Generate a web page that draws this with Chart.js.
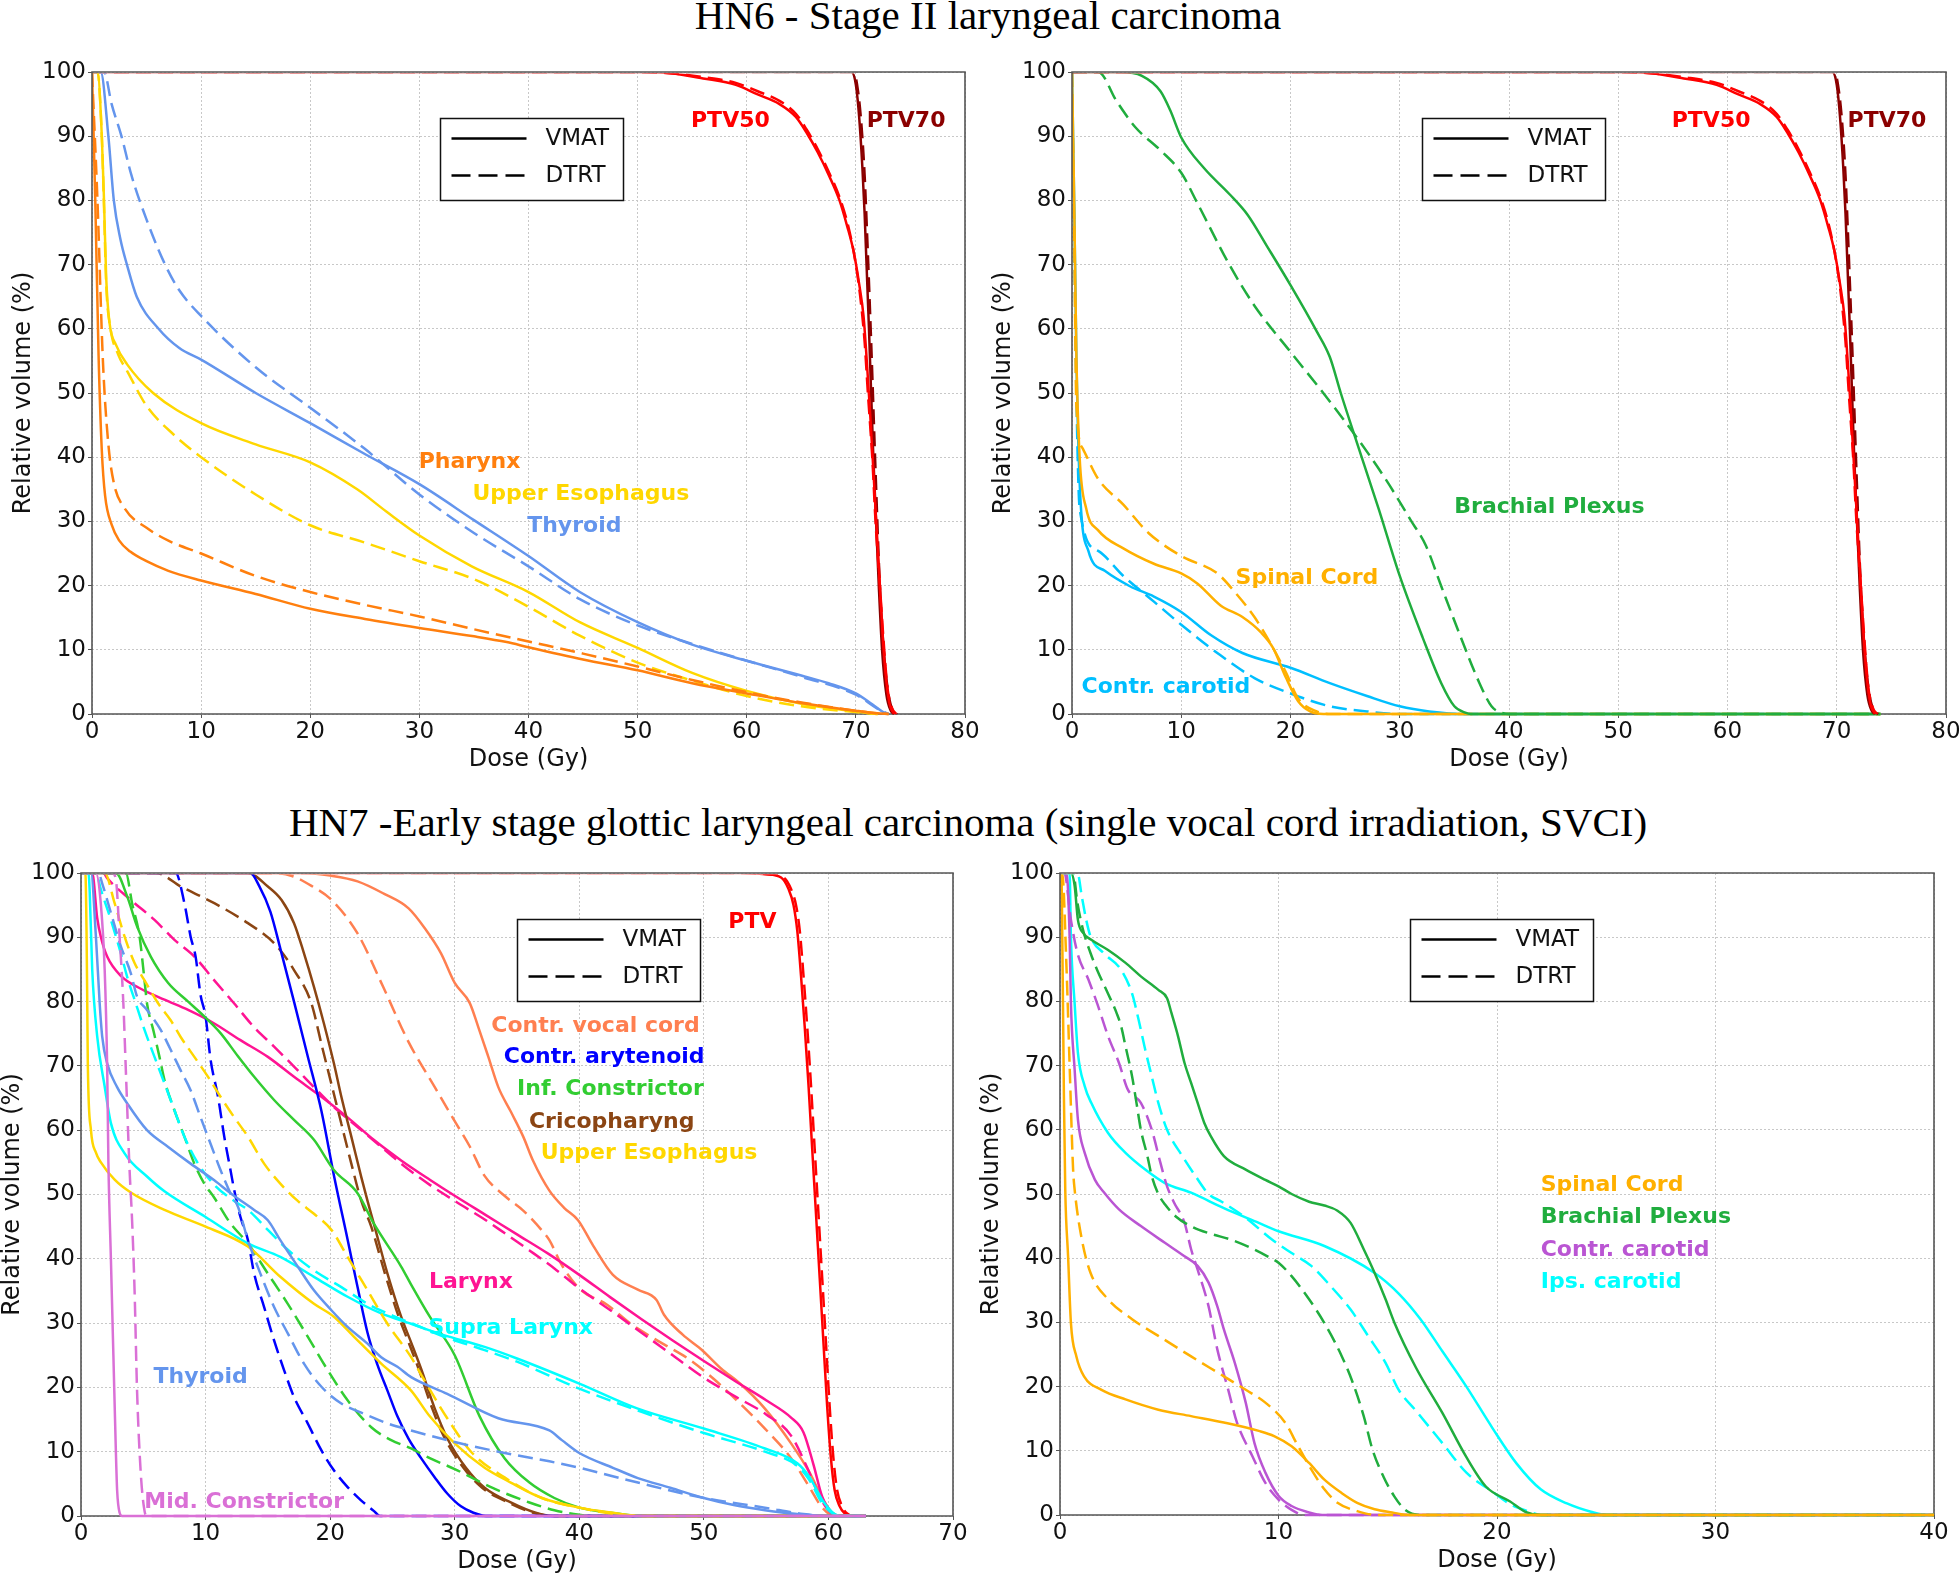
<!DOCTYPE html>
<html>
<head>
<meta charset="utf-8">
<script src="https://cdn.jsdelivr.net/npm/chart.js@4.4.1/dist/chart.umd.min.js"></script>
<style>
html,body{margin:0;padding:0;background:#fff;overflow:hidden;width:1959px;height:1576px;position:relative}
.title{position:absolute;font-family:'Liberation Serif','Times New Roman',serif;font-size:41px;line-height:41px;white-space:nowrap;color:#000;transform:translateX(-50%)}
canvas{position:absolute}
</style>
</head>
<body>
<div class="title" style="left:988px;top:-5px">HN6 - Stage II laryngeal carcinoma</div>
<div class="title" style="left:968px;top:802px">HN7 -Early stage glottic laryngeal carcinoma (single vocal cord irradiation, SVCI)</div>
<canvas id="c1" width="990" height="730" style="left:5px;top:48px"></canvas>
<canvas id="c2" width="991" height="730" style="left:985px;top:48px"></canvas>
<canvas id="c3" width="989" height="731" style="left:-6px;top:849px"></canvas>
<canvas id="c4" width="991" height="730" style="left:973px;top:849px"></canvas>
<script>
// ---------- tick settings ----------
const xMaxHN6 = 80, xMaxHN7a = 70, xMaxHN7b = 40;
const tickStep = 10;

// ---------- HN6 shared PTVs: [dose Gy, volume %] ----------
const hn6_ptv50_vmat = [[0,100],[50,100],[53,99.8],[56,99],[59,98],[61,96.5],[63,95],[64.5,93],[65.5,90.5],[66.5,87.5],[67.5,84],[68.5,80],[69.2,76],[69.8,72],[70.3,67],[70.7,62],[71,55],[71.3,47],[71.6,38],[71.9,29],[72.2,20],[72.5,11],[72.8,5],[73.1,1.5],[73.5,0]];
const hn6_ptv50_dtrt = [[0,100],[50,100],[53,99.8],[56,99.2],[59,98.3],[61,97],[63,95.5],[64.5,93.5],[65.5,91],[66.5,88],[67.5,84.5],[68.5,80.5],[69.3,76],[69.9,71],[70.4,65],[70.8,58],[71.1,50],[71.5,40],[71.8,30],[72.2,20],[72.6,10],[72.9,4],[73.3,1],[73.7,0]];
const hn6_ptv70_vmat = [[0,100],[69.6,100],[70,98],[70.3,93],[70.6,85],[70.8,78],[71.2,60],[71.6,40],[72.1,20],[72.4,10],[72.8,3],[73.2,0.5],[73.5,0]];
const hn6_ptv70_dtrt = [[0,100],[69.8,100],[70.2,97],[70.5,92],[70.8,84],[71,76],[71.4,58],[71.8,38],[72.2,20],[72.6,9],[73,3],[73.4,0.5],[73.8,0]];

// ---------- HN6 left panel ----------
const hn6_pharynx_vmat = [[0,100],[0.3,80],[0.6,56],[0.9,41],[1.2,34],[1.8,29.5],[2.5,27],[3.5,25.3],[5,23.8],[7,22.3],[10,20.8],[15,18.7],[20,16.4],[25,14.8],[30,13.4],[35,12.1],[38,11.2],[40,10.4],[45,8.5],[50,6.8],[55,4.8],[60,3.2],[65,1.7],[70,0.5],[72,0.1],[73,0]];
const hn6_pharynx_dtrt = [[0,100],[0.5,80],[1,55],[1.5,42],[2,36],[3,32],[5,29],[7,27],[10,25],[15,21.5],[20,19],[25,17],[30,15.2],[35,13.2],[40,11.3],[45,9.4],[50,7.4],[55,5.3],[60,3.4],[65,1.8],[70,0.5],[72,0.1],[73,0]];
const hn6_ueso_vmat = [[0,100],[0.5,100],[0.9,90],[1.1,80],[1.3,68],[1.6,61],[2.2,57.5],[3.2,54.5],[5.6,50],[10,45.3],[15,42],[20,39.2],[24.3,35],[27,31.5],[30,27.8],[34.8,23],[40,19],[44.7,14.3],[50,10.3],[55,6.4],[60,3.6],[65,1.6],[70,0.4],[72,0]];
const hn6_ueso_dtrt = [[0,100],[0.5,100],[0.9,90],[1.1,79],[1.3,67],[1.7,60],[2.4,56],[3.2,53.5],[5,48],[7.5,43.5],[10,40],[15,34.2],[20,29.4],[25,26.7],[30,23.8],[35,21],[40,16.7],[44.7,12.2],[50,8],[55,5.2],[60,2.8],[65,1.2],[70,0.3],[72,0]];
const hn6_thyroid_vmat = [[0,100],[0.8,100],[1.5,90],[2,80],[2.6,74],[3.2,70],[4.1,65],[6.1,60],[8,57],[10,55.2],[15,50],[20,45.3],[25,40.5],[30,35.8],[35,30.2],[40,24.6],[44.7,19],[50,14.3],[55,10.8],[60,8.3],[65,6],[67.5,4.8],[70,3.2],[71.5,1.5],[72.5,0.3],[73,0]];
const hn6_thyroid_dtrt = [[0,100],[1.1,100],[1.8,95],[2.7,90],[3.6,84],[5,77],[6.7,70],[8,66],[10,62],[15,54],[20,47.7],[25,41.3],[30,34.2],[35,28.2],[40,23],[44.7,17.9],[50,13.8],[55,10.9],[60,8.3],[65,5.8],[70,3],[72,0.8],[73,0]];

// ---------- HN6 right panel ----------
const hn6_brachial_vmat = [[0,100],[4.5,100],[6.4,99.4],[8.1,97],[9,94],[10,89.8],[12.1,85],[14.4,81],[16.1,77.7],[17.8,73],[20,66.8],[22.4,59.6],[23.6,55.6],[24.6,50],[25.8,43.7],[28.1,31.8],[30,21.5],[32.1,11.9],[33.8,4.8],[35,1.2],[36,0.2],[36.5,0],[74,0]];
const hn6_brachial_dtrt = [[0,100],[2.4,100],[4.1,95.4],[5.8,91.4],[8.1,87.8],[10,84.3],[11.5,79.5],[14.4,70],[16.7,63.6],[20,56.4],[23,50],[25.8,43.7],[28.7,36.6],[31,30.2],[32.4,26.2],[33.8,19.9],[35.6,11.9],[37.3,4.8],[38.4,1.2],[39.3,0.2],[40,0],[74,0]];
const hn6_spinal_vmat = [[0,100],[0.2,80],[0.4,56],[0.7,40],[1.3,32],[2.4,28.6],[4.7,25.8],[7.5,23.4],[10,21.9],[11.5,20.3],[13.6,16.9],[15.6,15.1],[17.3,12.7],[18.4,10.3],[19.6,5.6],[20.7,2],[21.8,0.4],[23,0],[74,0]];
const hn6_spinal_dtrt = [[0,100],[0.2,75],[0.4,48],[1,41.3],[2.4,36.6],[4.7,32.6],[7,28.2],[10,24.6],[13.3,21.9],[14.9,19],[16.7,15.1],[18.4,10.3],[19.6,6.4],[20.7,2.4],[22.4,0.4],[23.5,0],[74,0]];
const hn6_ccarotid_vmat = [[0,100],[0.2,80],[0.4,56],[0.7,36],[1.5,25.4],[3,22.3],[5.3,19.9],[7.5,18.3],[10,15.9],[12.7,12.3],[15.6,9.5],[20,7.2],[23.6,4.8],[27,2.8],[30,1.2],[32.7,0.4],[36,0],[74,0]];
const hn6_ccarotid_dtrt = [[0,100],[0.2,75],[0.4,50],[0.7,32],[2.4,25.4],[4.7,21.5],[7.5,17.5],[10,13.9],[13.3,9.5],[16.7,5.6],[20,3.2],[23.6,1.2],[27,0.4],[30,0],[74,0]];

// ---------- HN7 left panel ----------
const hn7_ptv_vmat = [[0,100],[53,100],[55,99.8],[56.2,99.3],[56.8,97.5],[57.2,95],[57.5,91],[57.8,84],[58.1,76],[58.4,67],[58.7,57],[59,47],[59.3,37],[59.6,27],[59.9,17],[60.2,9],[60.5,4],[60.9,1.5],[61.3,0.4],[61.8,0],[63,0]];
const hn7_ptv_dtrt = [[0,100],[53.2,100],[55.2,99.8],[56.4,99.3],[57,97.5],[57.4,95],[57.7,91],[58,84],[58.3,76],[58.6,67],[58.9,57],[59.2,47],[59.5,37],[59.8,27],[60.1,17],[60.4,9],[60.7,4],[61.1,1.5],[61.5,0.4],[62,0],[63,0]];
const hn7_cvc_vmat = [[0,100],[18,100],[20,99.6],[22.2,98.7],[24.3,96.8],[26.3,94.5],[27.6,91.4],[28.9,87.5],[30,82.9],[31.2,79.8],[31.9,76],[32.7,71.4],[33.5,66.7],[34.5,62.9],[35.5,59],[36.3,55.2],[37.6,50.6],[38.8,47.9],[39.9,46],[41.1,42.1],[42.7,37.5],[44.7,35.2],[46.2,33.6],[46.8,31.3],[48.3,28.2],[49.8,25.9],[51.4,22.9],[52.9,20.6],[54.9,16.7],[57,11.3],[58.5,6.7],[59.5,2.8],[60.3,0.5],[61,0],[63,0]];
const hn7_cvc_dtrt = [[0,100],[15.5,100],[17,99.5],[18.5,98],[20,96],[22.2,90.6],[24.3,82.1],[26.3,73.7],[28.4,66.7],[30,61.4],[31.2,57.5],[32.4,52.9],[34,49.8],[35.5,47.5],[37,44.4],[37.6,42.9],[38.6,39],[40.1,35.2],[42.2,32.9],[44.2,29.8],[46.8,26.7],[48.8,24.4],[50.8,21.3],[52.9,17.5],[54.9,13.6],[57,9],[58.5,4.4],[59.5,1.3],[60.5,0],[63,0]];
const hn7_cary_vmat = [[0,100],[13.6,100],[14.3,98],[15.2,94],[16.1,87.5],[17.1,80],[18.2,71.5],[19.3,63],[20.3,53],[21.4,43],[22.2,35.6],[23,28.5],[23.8,23.5],[24.6,19.5],[25.4,15.5],[26.3,12],[27.3,9],[28.4,6],[29.4,3.5],[30.5,1.5],[31.5,0.5],[32.5,0],[63,0]];
const hn7_cary_dtrt = [[0,100],[7.6,100],[8.3,95.3],[8.8,90.1],[9.2,87],[9.6,81],[10,77.7],[10.4,71],[11,65.2],[11.5,59],[12,53.8],[12.3,50.7],[12.8,46.5],[13.4,42.9],[13.9,37.7],[14.7,32.5],[15.5,27.3],[16.3,22.7],[17.1,18.5],[18.2,14.4],[19.3,10.2],[20.3,7.1],[21.4,4.5],[22.5,2.4],[23.5,0.8],[24,0],[63,0]];
const hn7_infc_vmat = [[0,100],[2.8,100],[3.7,96.4],[4.5,91.7],[5.6,87],[7,82.9],[8.6,80],[10,77.5],[11.2,75.1],[12.6,71.5],[13.9,68.3],[15.5,64.7],[17.1,61.6],[18.7,58.5],[20.3,53.8],[22.2,50.2],[23.5,45.5],[25.7,38.8],[26.5,36],[28,31],[30,25],[32,15.5],[34,9],[36,5.2],[38,2.8],[40,1.3],[43,0.4],[45,0],[63,0]];
const hn7_infc_dtrt = [[0,100],[3.6,100],[4.1,95.3],[4.7,90.1],[5.1,83.3],[5.3,79.7],[5.8,75.6],[6.3,71.4],[6.7,67.8],[7.5,63.1],[8.3,59],[9.1,54.8],[9.9,51.7],[10.7,49.5],[12,45.5],[13.4,42.4],[15,37.7],[16.6,33],[18.2,27.9],[19.8,22.7],[21.4,18],[23.3,13.8],[24.9,11.8],[26.5,10.5],[28,9],[30,7.3],[33,4.4],[36,2.1],[38,0.9],[40,0.2],[41,0],[63,0]];
const hn7_crico_vmat = [[0,100],[13.4,100],[15,97.9],[16.1,95.8],[17.1,92.2],[17.9,87.5],[18.7,82.3],[19.5,76.6],[20.3,70.4],[20.9,65.2],[21.7,59],[22.5,52.7],[23,49],[23.5,45.5],[24.6,37.7],[25.7,31],[26.5,27],[27.3,22.9],[28.4,16.7],[29.4,12.1],[30.9,7.5],[32.4,4.4],[34.5,2.1],[36.5,0.5],[38,0],[63,0]];
const hn7_crico_dtrt = [[0,100],[6,100],[8,97.9],[10.7,95.3],[13.4,92.2],[15.5,89.1],[17.1,84.9],[18.5,79.7],[19.3,73.4],[20.1,67.2],[20.9,61],[21.7,54.8],[22.5,49],[23.3,45],[24.4,37.7],[25.5,31],[26.3,27],[27.1,22.9],[28.2,16.7],[29.2,12.1],[30.7,7.5],[32.2,4.4],[34.3,2.1],[36.3,0.5],[37.8,0],[63,0]];
const hn7_ueso_vmat = [[0,100],[0.35,100],[0.45,90],[0.5,80],[0.55,70],[0.8,60],[1.2,56.5],[1.6,55],[2.7,52.3],[4,50.3],[6.7,47.6],[10,45],[13.4,41.9],[16,37.2],[18.7,33],[20.3,31],[21.9,27.9],[24.1,23.7],[26.5,19.5],[28,15.5],[30,11.3],[32.4,7.5],[34.5,5.2],[37,2.8],[40,1.3],[42.7,0.5],[45,0],[63,0]];
const hn7_ueso_dtrt = [[0,100],[1.9,100],[2.7,95.3],[3.5,90.1],[4.3,86],[5.1,83.3],[6.2,79.7],[7.2,77.1],[8,74.5],[9.1,71.4],[10.2,68.3],[11.2,65.2],[12.3,62],[13.4,59],[14.7,54.8],[16,51.7],[17.4,49],[18.7,47],[20.1,44.5],[21.4,40.3],[23,35.1],[24.6,29.9],[26.5,24.7],[27.3,22],[29.4,15.2],[31.4,9.8],[34,6],[37,2.8],[40,1.3],[42.5,0.4],[45,0],[63,0]];
const hn7_larynx_vmat = [[0,100],[0.9,100],[1.3,93],[1.6,90],[2.1,87],[3.2,84],[4.8,82],[6.7,80.3],[8.6,78.7],[10.7,76.6],[12.8,74],[15,71.4],[17.1,68.3],[19.3,65.2],[21.4,62],[23.5,58.5],[25.7,55.3],[28,52.3],[30,49.8],[32.5,46.8],[35,43.8],[37.5,40.8],[40,37.5],[42.5,34],[45,30.6],[47.5,27.3],[50,24.1],[52.5,21],[55,18],[57,15.3],[58,13],[58.8,8],[59.5,3],[60.3,0.5],[61,0],[63,0]];
const hn7_larynx_dtrt = [[0,100],[1.8,100],[2.1,99.2],[4,95.8],[5.9,92.7],[7.5,89.6],[9.1,87],[10.7,83.3],[12.3,79.7],[13.9,76],[15.5,73],[17.1,69.9],[18.7,66.7],[20.3,63.6],[22.2,60.5],[24.1,57.4],[25.7,54.8],[28,51.5],[30,49],[32.5,46],[34,44],[36,41.3],[38,38.5],[40,35.4],[42.5,32],[45,28.5],[47.5,25],[50,21.5],[52.5,18.6],[55,15.8],[57,12.5],[58.3,7.5],[59.3,3],[60.2,0.5],[61,0],[63,0]];
const hn7_supra_vmat = [[0,100],[0.6,100],[0.7,97],[0.9,85],[1.3,74.6],[1.9,66.8],[2.4,61.1],[3.5,56.4],[5.3,52.8],[6.7,50.5],[10,46.5],[13.4,42.4],[16,40.3],[18.7,37.2],[21.4,34.1],[24.1,31.5],[26.5,29.9],[29,28.2],[32.4,26.3],[35,24.5],[40,20.6],[44.7,16.7],[50,13.6],[54.9,10.5],[57.5,8.2],[58.5,6],[59.5,2.5],[60.5,0.3],[61,0],[63,0]];
const hn7_supra_dtrt = [[0,100],[1.2,100],[1.6,97.4],[2.4,92.7],[3.2,87.5],[3.7,83.9],[4.4,79.7],[5.1,75.6],[5.9,71.4],[6.7,67.3],[7.5,63.1],[8.3,59],[9.4,54.8],[10.7,51.5],[12.3,49],[13.4,47.6],[15,44.5],[16.6,41.4],[18.7,38.2],[20.9,35.6],[23,33],[25.2,31],[26.5,30],[29,28],[32.4,25.8],[35,24],[40,19.8],[45,16.2],[50,12.9],[54.9,10],[57.5,7.8],[58.5,5.5],[59.5,2],[60.5,0.2],[61,0],[63,0]];
const hn7_thyroid_vmat = [[0,100],[0.8,100],[1.2,90],[1.5,79.7],[1.7,74.6],[2.1,70.4],[2.9,66.7],[3.7,64.2],[5.3,60],[7,57.4],[8.8,54.8],[10.7,52.2],[12,50.2],[13.9,47.6],[15,46],[16,42.9],[17.4,38.8],[18.7,35.1],[20.1,32],[21.4,29.4],[23,26.8],[24.1,24.7],[25.4,23.2],[26.5,21.6],[29.4,19],[33.5,15.2],[37.6,13.3],[38.6,11.8],[40,9.8],[42.7,7.5],[44.7,5.9],[47.3,4.4],[50,2.8],[52.4,1.7],[54.9,0.9],[57.5,0.3],[60,0],[63,0]];
const hn7_thyroid_dtrt = [[0,100],[1.4,100],[1.7,98.4],[2.4,93.8],[3.2,88.6],[4,84.4],[4.5,80.8],[5.3,78.7],[6.4,75.6],[7.2,72.5],[8,69.3],[8.8,66.2],[9.6,62],[10.4,57.9],[11.2,53.8],[12,50.2],[12.6,48.1],[13.4,42.9],[14.4,37.7],[15.5,32.5],[16.6,28.4],[17.9,23.7],[19.3,20.1],[20.9,17.5],[22.7,15.9],[24.6,14.4],[26.5,13.3],[30,11.5],[33.5,10],[37.6,8.5],[40,7.5],[44.7,5.2],[50,2.8],[54.9,1.3],[58,0.3],[60,0],[63,0]];
const hn7_midc_vmat = [[0,100],[1.2,100],[1.6,95],[1.9,85],[2.1,70],[2.2,55],[2.4,40],[2.6,25],[2.8,10],[2.9,4],[3.1,0.5],[3.3,0],[63,0]];
const hn7_midc_dtrt = [[0,100],[2.5,100],[2.8,99],[3.1,90],[3.4,79.7],[3.6,69.3],[3.9,53.8],[4.1,46],[4.3,35.1],[4.5,19.5],[4.8,6.6],[5.1,0.8],[5.3,0],[63,0]];

// ---------- HN7 right panel ----------
const hn7b_spinal_vmat = [[0,100],[0.06,100],[0.12,85],[0.18,65],[0.24,50.7],[0.37,40.3],[0.5,29.9],[0.75,24.7],[1.1,21.6],[1.9,19.5],[3,18],[4.5,16.4],[6,15.4],[7.5,14.4],[9.1,13.1],[9.8,12.3],[10.6,10.7],[11.4,8.1],[12.1,5.5],[12.9,3.4],[13.6,1.9],[14.4,0.9],[15.2,0.4],[16,0],[40,0]];
const hn7b_spinal_dtrt = [[0,100],[0.1,100],[0.3,85],[0.45,69],[0.6,53.8],[0.67,50.7],[1,42.9],[1.4,37.7],[2.2,33.6],[3.3,30.5],[4.5,27.9],[6,24.7],[7.5,21.6],[8.5,19.5],[9.4,17.5],[10.3,14.4],[10.9,10.7],[11.5,7.1],[12.1,4],[12.7,1.9],[13.6,0.6],[14.5,0],[40,0]];
const hn7b_ccar_vmat = [[0,100],[0.3,100],[0.44,90.1],[0.5,79.7],[0.67,69.4],[0.82,61.6],[1.13,56.4],[1.6,52.2],[2,50.3],[2.7,47.6],[3.7,45],[4.8,42.4],[5.7,40.3],[6.3,38.8],[6.8,36.2],[7.2,32.5],[7.5,28.9],[8,23.7],[8.5,17.5],[8.9,11.2],[9.4,6.6],[10,3],[10.6,1.4],[11.4,0.4],[12,0],[40,0]];
const hn7b_ccar_dtrt = [[0,100],[0.2,100],[0.5,92.7],[0.8,87.5],[1.3,83.4],[1.7,79.7],[2.2,74.6],[2.7,70.4],[3.1,66.3],[3.7,64.2],[4.2,60],[4.6,54.8],[4.9,51.2],[5.2,48.8],[5.7,45.5],[6,41.4],[6.3,38.2],[6.8,32.5],[7.2,25.8],[7.7,19.5],[8.1,14.4],[8.8,9.2],[9.4,5],[10,2.4],[10.6,0.8],[11.2,0],[40,0]];
const hn7b_brach_vmat = [[0,100],[0.5,100],[0.67,98],[0.82,92.7],[1.05,90.7],[1.43,89.6],[2.2,88],[3,86],[3.7,83.9],[4.5,81.8],[4.9,80.5],[5.1,78.2],[5.4,74.6],[5.7,70.4],[6,67.3],[6.3,64.2],[6.6,61.1],[6.9,59],[7.5,55.9],[8.5,53.8],[9.4,52.2],[10,51.2],[10.6,50],[11.4,48.8],[12.1,48.2],[12.7,47.4],[13.3,45.5],[13.9,41.4],[14.4,37.7],[14.9,33.6],[15.3,30],[16.3,22.9],[17.5,15.9],[18.6,9],[19.5,4.4],[20.6,2.1],[21.3,0.5],[22,0],[40,0]];
const hn7b_brach_dtrt = [[0,100],[0.6,100],[0.8,95.3],[1.05,91.2],[1.4,87.5],[1.7,84.9],[2.2,81.2],[2.6,78.1],[2.8,76.1],[3,73],[3.3,68.3],[3.5,64.2],[3.7,60],[4,55.9],[4.2,52.8],[4.5,50],[4.8,48.4],[5.3,46.5],[6.1,44.8],[6.9,43.8],[7.9,42.8],[8.8,41.5],[9.6,40.1],[10,39.3],[10.6,37.2],[11.4,33.6],[12.1,29.9],[12.9,24.7],[13.4,20.6],[13.9,15.4],[14.3,10.2],[14.8,6],[15.3,2.9],[15.8,0.8],[16.5,0],[40,0]];
const hn7b_ips_vmat = [[0,100],[0.44,100],[0.5,90],[0.67,79.7],[0.82,72],[1.13,66.8],[1.43,64.2],[2.2,59.5],[3,56.4],[3.9,53.8],[4.8,51.7],[6,50.2],[7.5,47.8],[9.1,45.5],[10,44.2],[12.1,41.9],[14.4,37.7],[15.5,34.5],[16.5,30.5],[17.5,25.5],[18.6,20],[19.8,13.5],[20.9,8],[22,4],[23.2,1.8],[24.3,0.5],[25,0],[40,0]];
const hn7b_ips_dtrt = [[0,100],[0.8,100],[1,96.3],[1.2,92.7],[1.4,90.1],[2,87.5],[2.8,84.9],[3.3,81.2],[3.6,77.1],[3.9,72.5],[4.2,68.3],[4.5,64.2],[4.9,60],[5.6,55.9],[6.2,52.8],[6.8,50],[7.4,48.8],[8.5,46.3],[9.7,42.9],[10.6,40.8],[11.5,38.8],[12.4,35.6],[13.3,32],[14.1,27.9],[14.9,23.7],[15.5,19.5],[16.3,16.2],[17.5,11.2],[18.6,6.6],[19.8,3.6],[20.6,1.7],[21.5,0.5],[22,0],[40,0]];

// ---------- curve labels ----------
const hn6aLabelText = ['PTV50','PTV70','Pharynx','Upper Esophagus','Thyroid'];
const hn6aLabelDose = [58.5,74.6,34.6,44.8,44.2];
const hn6aLabelVol  = [92.4,92.4,39.2,34.3,29.3];
const hn6bLabelText = ['PTV50','PTV70','Brachial Plexus','Spinal Cord','Contr. carotid'];
const hn6bLabelDose = [58.5,74.6,43.7,21.5,8.6];
const hn6bLabelVol  = [92.4,92.4,32.2,21.2,4.1];
const hn7aLabelText = ['PTV','Contr. vocal cord','Contr. arytenoid','Inf. Constrictor','Cricopharyng','Upper Esophagus','Larynx','Supra Larynx','Thyroid','Mid. Constrictor'];
const hn7aLabelDose = [53.9,41.3,42.0,42.5,42.6,45.6,31.3,34.5,9.6,13.1];
const hn7aLabelVol  = [92.3,76.2,71.4,66.3,61.2,56.4,36.3,29.2,21.5,2.2];
const hn7bLabelText = ['Spinal Cord','Brachial Plexus','Contr. carotid','Ips. carotid'];
const hn7bLabelDose = [22.0,22.0,22.0,22.0];
const hn7bLabelVol  = [51.3,46.3,41.3,36.3];

const legendNames = ['VMAT','DTRT'];

// ---------- colours ----------
const C = {
  pharynx:'#ff7f0e', ueso:'#ffd700', thyroid:'#6495ed', ptv50:'#ff0000', ptv70:'#8b0000',
  brach:'#20ad3e', spinal:'#ffb000', ccarA:'#00bfff',
  cvc:'#ff7f50', cary:'#0000ff', infc:'#32cd32', crico:'#8b4513', larynx:'#ff1493', supra:'#00ffff', midc:'#da70d6', ptv:'#ff0000',
  ccarB:'#ba55d3', ips:'#00ffff'
};

const FONT = "'DejaVu Sans', 'Liberation Sans', sans-serif";
const Y_W = 87, X_H = 64, PT = 24, PR = 30;

function pts(a){ return a.map(p => ({x:p[0], y:p[1]})); }
function ds(arr, color, dashed){
  return { data: pts(arr), borderColor: color, borderWidth: 2.5, borderDash: dashed ? [15,7] : [],
           pointRadius: 0, fill: false, cubicInterpolationMode: 'monotone',
           clip: {left:0, top:-1.4, right:6, bottom:6} };
}
function labels(t, d, v, colors, align){
  return t.map((s,i) => ({text:s, x:d[i], y:v[i], color:colors[i], align:align||'center'}));
}

function frameSides(chart, sides){
  const {ctx, chartArea:a} = chart;
  ctx.save(); ctx.strokeStyle = '#555'; ctx.lineWidth = 1.6; ctx.setLineDash([]);
  ctx.beginPath();
  if (sides.includes('b')) { ctx.moveTo(a.left, a.bottom); ctx.lineTo(a.right, a.bottom); }
  if (sides.includes('r')) { ctx.moveTo(a.right, a.bottom); ctx.lineTo(a.right, a.top); }
  if (sides.includes('t')) { ctx.moveTo(a.left - 0.8, a.top); ctx.lineTo(a.right + 0.8, a.top); }
  if (sides.includes('l')) { ctx.moveTo(a.left, a.top); ctx.lineTo(a.left, a.bottom + 0.8); }
  ctx.stroke(); ctx.restore();
}
const framePlugin = {
  id:'frameBox',
  beforeDatasetsDraw(chart){ frameSides(chart, 'br'); },
  afterDatasetsDraw(chart){ frameSides(chart, 'tl'); }
};
const labelPlugin = {
  id:'curveLabels',
  afterDatasetsDraw(chart, args, opts){
    const {ctx} = chart; const xs = chart.scales.x, ys = chart.scales.y;
    ctx.save(); ctx.font = 'bold 22px ' + FONT; ctx.textBaseline = 'middle';
    (opts.items||[]).forEach(it => {
      ctx.fillStyle = it.color; ctx.textAlign = it.align;
      ctx.fillText(it.text, xs.getPixelForValue(it.x), ys.getPixelForValue(it.y));
    });
    ctx.restore();
  }
};
const legendPlugin = {
  id:'styleLegend',
  afterDatasetsDraw(chart, args, opts){
    if(!opts.at) return;
    const {ctx} = chart; const xs = chart.scales.x, ys = chart.scales.y;
    const l = Math.round(xs.getPixelForValue(opts.at[0])) + 0.5, t = Math.round(ys.getPixelForValue(opts.at[1])) + 0.5;
    const w = 183, h = 82;
    ctx.save();
    ctx.fillStyle = '#fff'; ctx.fillRect(l, t, w, h);
    ctx.strokeStyle = '#111'; ctx.lineWidth = 1.5; ctx.strokeRect(l, t, w, h);
    ctx.lineWidth = 2.6; ctx.strokeStyle = '#000';
    [20, 57].forEach((dy, i) => {
      ctx.setLineDash(i === 0 ? [] : [19,8]);
      ctx.beginPath(); ctx.moveTo(l + 11, t + dy); ctx.lineTo(l + 86, t + dy); ctx.stroke();
    });
    ctx.setLineDash([]);
    ctx.fillStyle = '#111'; ctx.font = '23px ' + FONT; ctx.textBaseline = 'middle'; ctx.textAlign = 'left';
    ctx.fillText(legendNames[0], l + 105, t + 21);
    ctx.fillText(legendNames[1], l + 105, t + 58);
    ctx.restore();
  }
};

function axisCfg(max, title, isX){
  return {
    type:'linear', min:0, max:max,
    ticks:{ stepSize: tickStep, font:{family:FONT, size:23}, color:'#111', padding: isX ? 0 : 2,
            maxRotation:0, autoSkip:false, includeBounds:true },
    grid:{ color:'#c8c8c8', lineWidth:1, drawTicks:true, tickLength:4, tickColor:'#555', tickBorderDash:[] },
    border:{ display:false, dash:[2,2] },
    title:{ display:true, text:title, font:{family:FONT, size:24}, color:'#111', padding:{top:4, bottom:4} },
    afterFit(s){ if(isX) s.height = X_H; else s.width = Y_W; }
  };
}

function makeChart(id, xMax, datasets, items, legendAt){
  return new Chart(document.getElementById(id), {
    type:'line',
    data:{ datasets: datasets },
    options:{
      responsive:false, animation:false, devicePixelRatio:1,
      layout:{ padding:{ left:0, top:PT, right:PR, bottom:0 } },
      plugins:{ legend:{display:false}, tooltip:{enabled:false},
                curveLabels:{ items: items }, styleLegend:{ at: legendAt } },
      scales:{ x: axisCfg(xMax, 'Dose (Gy)', true), y: axisCfg(100, 'Relative volume (%)', false) }
    },
    plugins:[framePlugin, labelPlugin, legendPlugin]
  });
}

// Panel 1
makeChart('c1', xMaxHN6, [
  ds(hn6_pharynx_vmat, C.pharynx, false), ds(hn6_pharynx_dtrt, C.pharynx, true),
  ds(hn6_ueso_vmat, C.ueso, false), ds(hn6_ueso_dtrt, C.ueso, true),
  ds(hn6_thyroid_vmat, C.thyroid, false), ds(hn6_thyroid_dtrt, C.thyroid, true),
  ds(hn6_ptv50_vmat, C.ptv50, false), ds(hn6_ptv50_dtrt, C.ptv50, true),
  ds(hn6_ptv70_vmat, C.ptv70, false), ds(hn6_ptv70_dtrt, C.ptv70, true)
], labels(hn6aLabelText, hn6aLabelDose, hn6aLabelVol, [C.ptv50, C.ptv70, C.pharynx, C.ueso, C.thyroid]), [31.9, 92.8]);

// Panel 2
makeChart('c2', xMaxHN6, [
  ds(hn6_ptv50_vmat, C.ptv50, false), ds(hn6_ptv50_dtrt, C.ptv50, true),
  ds(hn6_ptv70_vmat, C.ptv70, false), ds(hn6_ptv70_dtrt, C.ptv70, true),
  ds(hn6_brachial_vmat, C.brach, false), ds(hn6_brachial_dtrt, C.brach, true),
  ds(hn6_spinal_vmat, C.spinal, false), ds(hn6_spinal_dtrt, C.spinal, true),
  ds(hn6_ccarotid_vmat, C.ccarA, false), ds(hn6_ccarotid_dtrt, C.ccarA, true)
], labels(hn6bLabelText, hn6bLabelDose, hn6bLabelVol, [C.ptv50, C.ptv70, C.brach, C.spinal, C.ccarA]), [32.0, 92.8]);

// Panel 3
makeChart('c3', xMaxHN7a, [
  ds(hn7_midc_vmat, C.midc, false), ds(hn7_midc_dtrt, C.midc, true),
  ds(hn7_thyroid_vmat, C.thyroid, false), ds(hn7_thyroid_dtrt, C.thyroid, true),
  ds(hn7_ueso_vmat, C.ueso, false), ds(hn7_ueso_dtrt, C.ueso, true),
  ds(hn7_supra_vmat, C.supra, false), ds(hn7_supra_dtrt, C.supra, true),
  ds(hn7_infc_vmat, C.infc, false), ds(hn7_infc_dtrt, C.infc, true),
  ds(hn7_cary_vmat, C.cary, false), ds(hn7_cary_dtrt, C.cary, true),
  ds(hn7_crico_vmat, C.crico, false), ds(hn7_crico_dtrt, C.crico, true),
  ds(hn7_larynx_vmat, C.larynx, false), ds(hn7_larynx_dtrt, C.larynx, true),
  ds(hn7_cvc_vmat, C.cvc, false), ds(hn7_cvc_dtrt, C.cvc, true),
  ds(hn7_ptv_vmat, C.ptv, false), ds(hn7_ptv_dtrt, C.ptv, true)
], labels(hn7aLabelText, hn7aLabelDose, hn7aLabelVol, [C.ptv, C.cvc, C.cary, C.infc, C.crico, C.ueso, C.larynx, C.supra, C.thyroid, C.midc]), [35.0, 92.9]);

// Panel 4
makeChart('c4', xMaxHN7b, [
  ds(hn7b_spinal_vmat, C.spinal, false), ds(hn7b_spinal_dtrt, C.spinal, true),
  ds(hn7b_brach_vmat, C.brach, false), ds(hn7b_brach_dtrt, C.brach, true),
  ds(hn7b_ccar_vmat, C.ccarB, false), ds(hn7b_ccar_dtrt, C.ccarB, true),
  ds(hn7b_ips_vmat, C.ips, false), ds(hn7b_ips_dtrt, C.ips, true)
], labels(hn7bLabelText, hn7bLabelDose, hn7bLabelVol, [C.spinal, C.brach, C.ccarB, C.ips], 'left'), [16.0, 92.9]);
</script>
</body>
</html>
